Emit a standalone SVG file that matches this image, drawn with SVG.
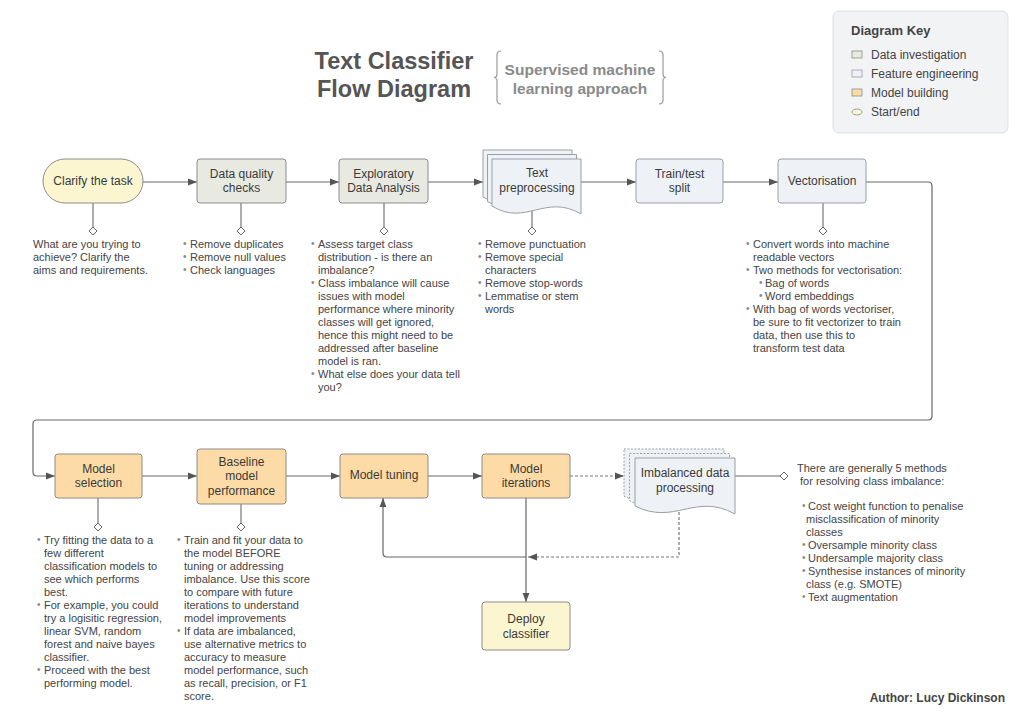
<svg xmlns="http://www.w3.org/2000/svg" xmlns:xlink="http://www.w3.org/1999/xlink" width="1024" height="724" viewBox="0 0 1024 724">
<style>
text{font-family:"Liberation Sans",Arial,sans-serif;}
.title{font-size:23.5px;font-weight:bold;fill:#555;text-anchor:middle;}
.sub{font-size:15.5px;font-weight:bold;fill:#8a8a8a;text-anchor:middle;}
.lbl{font-size:12px;fill:#3a3a3a;text-anchor:middle;}
.body{font-size:11px;fill:#444;}
.bul{font-size:10px;fill:#888;}
.key{font-size:12px;fill:#444;}
.keyh{font-size:13px;font-weight:bold;fill:#444;}
.auth{font-size:12px;font-weight:bold;fill:#444;text-anchor:end;}
.inv{fill:#e8eae1;stroke:#8c8c8c;stroke-width:1;}
.fe{fill:#eef2f6;stroke:#9a9fa5;stroke-width:1;}
.mb{fill:#fddba6;stroke:#8c8c8c;stroke-width:1;}
.se{fill:#fbf6cf;stroke:#8c8c8c;stroke-width:1;}
.dash{stroke-dasharray:2 1.5;}
.con{fill:none;stroke:#666;stroke-width:1.2;}
.cond{fill:none;stroke:#777;stroke-width:1.2;stroke-dasharray:3 2;}
.stub{fill:none;stroke:#777;stroke-width:1.2;}
.dia{fill:#fff;stroke:#666;stroke-width:1;}
.brace{fill:none;stroke:#9a9a9a;stroke-width:1.2;}
</style>
<defs>
<marker id="arr" viewBox="0 0 10 10" refX="10" refY="5" markerWidth="9" markerHeight="9" markerUnits="userSpaceOnUse" orient="auto">
<path d="M0,1.2 L10,5 L0,8.8 z" fill="#555"/>
</marker>
<path id="dia" d="M0,-4 L4,0 L0,4 L-4,0 z"/>
</defs>

<rect width="1024" height="724" fill="#ffffff"/>

<!-- Title -->
<g id="title">
<text class="title" x="394" y="69">Text Classifier</text>
<text class="title" x="394" y="97">Flow Diagram</text>
<path class="brace" d="M501,51 Q497,51 497,55 V73.5 Q497,77.5 494,77.5 Q497,77.5 497,81.5 V100 Q497,104 501,104"/>
<path class="brace" d="M659,51 Q663,51 663,55 V73.5 Q663,77.5 666,77.5 Q663,77.5 663,81.5 V100 Q663,104 659,104"/>
<text class="sub" x="580" y="75">Supervised machine</text>
<text class="sub" x="580" y="94">learning approach</text>
</g>

<!-- Key -->
<g id="key">
<rect x="833" y="11" width="175" height="122" rx="6" fill="#f1f3f5" stroke="#dde1e5"/>
<text class="keyh" x="851" y="35">Diagram Key</text>
<rect x="852" y="51" width="10" height="7" fill="#e8eae1" stroke="#8c8c8c" stroke-width="0.8"/>
<text class="key" x="871" y="59">Data investigation</text>
<rect x="852" y="70" width="10" height="7" fill="#eef2f6" stroke="#9a9fa5" stroke-width="0.8"/>
<text class="key" x="871" y="78">Feature engineering</text>
<rect x="852" y="89" width="10" height="7" fill="#fddba6" stroke="#8c8c8c" stroke-width="0.8"/>
<text class="key" x="871" y="97">Model building</text>
<ellipse cx="857" cy="112" rx="5" ry="3" fill="#fbf6cf" stroke="#8c8c8c" stroke-width="0.8"/>
<text class="key" x="871" y="116">Start/end</text>
</g>

<!-- Connectors -->
<g id="connectors">
<path class="con" d="M143,182 H197" marker-end="url(#arr)"/>
<path class="con" d="M286,182 H339" marker-end="url(#arr)"/>
<path class="con" d="M428,182 H483" marker-end="url(#arr)"/>
<path class="con" d="M581,182 H636" marker-end="url(#arr)"/>
<path class="con" d="M723,182 H778" marker-end="url(#arr)"/>
<path class="con" d="M866,182 H928 Q932,182 932,186 V416 Q932,420 928,420 H37 Q33,420 33,424 V472 Q33,476 37,476 H55" marker-end="url(#arr)"/>
<path class="con" d="M142,476 H197" marker-end="url(#arr)"/>
<path class="con" d="M286,476 H340" marker-end="url(#arr)"/>
<path class="con" d="M428,476 H482" marker-end="url(#arr)"/>
<path class="cond" d="M570,476 H624" marker-end="url(#arr)"/>
<path class="cond" d="M679,512 V557 H528" marker-end="url(#arr)"/>
<path class="con" d="M526,498 V602" marker-end="url(#arr)"/>
<path class="con" d="M526,557 H387 Q383,557 383,553 V498" marker-end="url(#arr)"/>
<path class="con" d="M735,476 H780"/>
<use href="#dia" class="dia" x="784" y="476"/>
<!-- stubs -->
<path class="stub" d="M93,203 V227"/>
<use href="#dia" class="dia" x="93" y="231"/>
<path class="stub" d="M241,203 V227"/>
<use href="#dia" class="dia" x="241" y="231"/>
<path class="stub" d="M384,203 V227"/>
<use href="#dia" class="dia" x="384" y="231"/>
<path class="stub" d="M532,210 V227"/>
<use href="#dia" class="dia" x="532" y="231"/>
<path class="stub" d="M823,203 V227"/>
<use href="#dia" class="dia" x="823" y="231"/>
<path class="stub" d="M98,498 V523"/>
<use href="#dia" class="dia" x="98" y="527"/>
<path class="stub" d="M241,504 V523"/>
<use href="#dia" class="dia" x="241" y="527"/>
</g>

<!-- Nodes -->
<g id="clarify">
<rect class="se" x="43" y="159" width="100" height="44" rx="22"/>
<text class="lbl" x="93" y="185">Clarify the task</text>
</g>
<g id="quality">
<rect class="inv" x="197" y="159" width="89" height="44" rx="3"/>
<text class="lbl" x="241.5" y="178">Data quality</text>
<text class="lbl" x="241.5" y="192">checks</text>
</g>
<g id="eda">
<rect class="inv" x="339" y="159" width="89" height="44" rx="3"/>
<text class="lbl" x="383.5" y="178">Exploratory</text>
<text class="lbl" x="383.5" y="192">Data Analysis</text>
</g>
<g id="preproc">
<path class="fe" d="M483,150 H572 V205 C538.6,190 518.6,218 483,197 Z"/>
<path class="fe" d="M487.5,154.5 H576.5 V209.5 C543.1,194.5 523.1,222.5 487.5,201.5 Z"/>
<path class="fe" d="M492,159 H581 V214 C545.4,193 525.6,227 492,206 Z"/>
<text class="lbl" x="537" y="177">Text</text>
<text class="lbl" x="537" y="192">preprocessing</text>
</g>
<g id="split">
<rect class="fe" x="636" y="159" width="87" height="44" rx="3"/>
<text class="lbl" x="679.5" y="178">Train/test</text>
<text class="lbl" x="679.5" y="192">split</text>
</g>
<g id="vector">
<rect class="fe" x="778" y="159" width="88" height="44" rx="3"/>
<text class="lbl" x="822" y="185">Vectorisation</text>
</g>
<g id="selection">
<rect class="mb" x="55" y="454" width="87" height="44" rx="3"/>
<text class="lbl" x="98.5" y="473">Model</text>
<text class="lbl" x="98.5" y="487">selection</text>
</g>
<g id="baseline">
<rect class="mb" x="197" y="449" width="89" height="55" rx="3"/>
<text class="lbl" x="241.5" y="466">Baseline</text>
<text class="lbl" x="241.5" y="480">model</text>
<text class="lbl" x="241.5" y="495">performance</text>
</g>
<g id="tuning">
<rect class="mb" x="340" y="454" width="88" height="44" rx="3"/>
<text class="lbl" x="384" y="479">Model tuning</text>
</g>
<g id="iterations">
<rect class="mb" x="482" y="454" width="88" height="44" rx="3"/>
<text class="lbl" x="526" y="473">Model</text>
<text class="lbl" x="526" y="487">iterations</text>
</g>
<g id="imbalanced">
<path class="fe dash" d="M624,449 H724 V504 C684,489 664,517 624,496 Z"/>
<path class="fe dash" d="M629.5,453.5 H729.5 V508.5 C689.5,493.5 669.5,521.5 629.5,500.5 Z"/>
<path class="fe" d="M635,458 H735 V514 C695,492 675,526 635,506 Z"/>
<text class="lbl" x="685" y="477">Imbalanced data</text>
<text class="lbl" x="685" y="492">processing</text>
</g>
<g id="deploy">
<rect class="se" x="482" y="602" width="88" height="48" rx="3"/>
<text class="lbl" x="526" y="623">Deploy</text>
<text class="lbl" x="526" y="638">classifier</text>
</g>

<!-- Notes -->
<g id="note-clarify">
<text class="body" x="33" y="248">What are you trying to</text>
<text class="body" x="33" y="261">achieve? Clarify the</text>
<text class="body" x="33" y="274">aims and requirements.</text>
</g>
<g id="note-quality">
<text class="bul" x="183" y="247">•</text><text class="body" x="190" y="248">Remove duplicates</text>
<text class="bul" x="183" y="260">•</text><text class="body" x="190" y="261">Remove null values</text>
<text class="bul" x="183" y="273">•</text><text class="body" x="190" y="274">Check languages</text>
</g>
<g id="note-eda">
<text class="bul" x="311" y="247">•</text><text class="body" x="318" y="248">Assess target class</text>
<text class="body" x="318" y="261">distribution - is there an</text>
<text class="body" x="318" y="274">imbalance?</text>
<text class="bul" x="311" y="286">•</text><text class="body" x="318" y="287">Class imbalance will cause</text>
<text class="body" x="318" y="300">issues with model</text>
<text class="body" x="318" y="313">performance where minority</text>
<text class="body" x="318" y="326">classes will get ignored,</text>
<text class="body" x="318" y="339">hence this might need to be</text>
<text class="body" x="318" y="352">addressed after baseline</text>
<text class="body" x="318" y="365">model is ran.</text>
<text class="bul" x="311" y="377">•</text><text class="body" x="318" y="378">What else does your data tell</text>
<text class="body" x="318" y="391">you?</text>
</g>
<g id="note-preproc">
<text class="bul" x="478" y="247">•</text><text class="body" x="485" y="248">Remove punctuation</text>
<text class="bul" x="478" y="260">•</text><text class="body" x="485" y="261">Remove special</text>
<text class="body" x="485" y="274">characters</text>
<text class="bul" x="478" y="286">•</text><text class="body" x="485" y="287">Remove stop-words</text>
<text class="bul" x="478" y="299">•</text><text class="body" x="485" y="300">Lemmatise or stem</text>
<text class="body" x="485" y="313">words</text>
</g>
<g id="note-vector">
<text class="bul" x="746" y="247">•</text><text class="body" x="753" y="248">Convert words into machine</text>
<text class="body" x="753" y="261">readable vectors</text>
<text class="bul" x="746" y="273">•</text><text class="body" x="753" y="274">Two methods for vectorisation:</text>
<text class="bul" x="759" y="286">•</text><text class="body" x="765" y="287">Bag of words</text>
<text class="bul" x="759" y="299">•</text><text class="body" x="765" y="300">Word embeddings</text>
<text class="bul" x="746" y="312">•</text><text class="body" x="753" y="313">With bag of words vectoriser,</text>
<text class="body" x="753" y="326">be sure to fit vectorizer to train</text>
<text class="body" x="753" y="339">data, then use this to</text>
<text class="body" x="753" y="352">transform test data</text>
</g>
<g id="note-selection">
<text class="bul" x="37" y="543">•</text><text class="body" x="44" y="544">Try fitting the data to a</text>
<text class="body" x="44" y="557">few different</text>
<text class="body" x="44" y="570">classification models to</text>
<text class="body" x="44" y="583">see which performs</text>
<text class="body" x="44" y="596">best.</text>
<text class="bul" x="37" y="608">•</text><text class="body" x="44" y="609">For example, you could</text>
<text class="body" x="44" y="622">try a logisitic regression,</text>
<text class="body" x="44" y="635">linear SVM, random</text>
<text class="body" x="44" y="648">forest and naive bayes</text>
<text class="body" x="44" y="661">classifier.</text>
<text class="bul" x="37" y="673">•</text><text class="body" x="44" y="674">Proceed with the best</text>
<text class="body" x="44" y="687">performing model.</text>
</g>
<g id="note-baseline">
<text class="bul" x="177" y="543">•</text><text class="body" x="184" y="544">Train and fit your data to</text>
<text class="body" x="184" y="557">the model BEFORE</text>
<text class="body" x="184" y="570">tuning or addressing</text>
<text class="body" x="184" y="583">imbalance. Use this score</text>
<text class="body" x="184" y="596">to compare with future</text>
<text class="body" x="184" y="609">iterations to understand</text>
<text class="body" x="184" y="622">model improvements</text>
<text class="bul" x="177" y="634">•</text><text class="body" x="184" y="635">If data are imbalanced,</text>
<text class="body" x="184" y="648">use alternative metrics to</text>
<text class="body" x="184" y="661">accuracy to measure</text>
<text class="body" x="184" y="674">model performance, such</text>
<text class="body" x="184" y="687">as recall, precision, or F1</text>
<text class="body" x="184" y="700">score.</text>
</g>
<g id="note-imbalance">
<text class="body" x="797" y="472">There are generally 5 methods</text>
<text class="body" x="800" y="485">for resolving class imbalance:</text>
<text class="bul" x="802" y="509">•</text><text class="body" x="808" y="510">Cost weight function to penalise</text>
<text class="body" x="806" y="523">misclassification of minority</text>
<text class="body" x="806" y="536">classes</text>
<text class="bul" x="802" y="548">•</text><text class="body" x="808" y="549">Oversample minority class</text>
<text class="bul" x="802" y="561">•</text><text class="body" x="808" y="562">Undersample majority class</text>
<text class="bul" x="802" y="574">•</text><text class="body" x="808" y="575">Synthesise instances of minority</text>
<text class="body" x="806" y="588">class (e.g. SMOTE)</text>
<text class="bul" x="802" y="600">•</text><text class="body" x="808" y="601">Text augmentation</text>
</g>
<g id="author">
<text class="auth" x="1005" y="702">Author: Lucy Dickinson</text>
</g>
</svg>
